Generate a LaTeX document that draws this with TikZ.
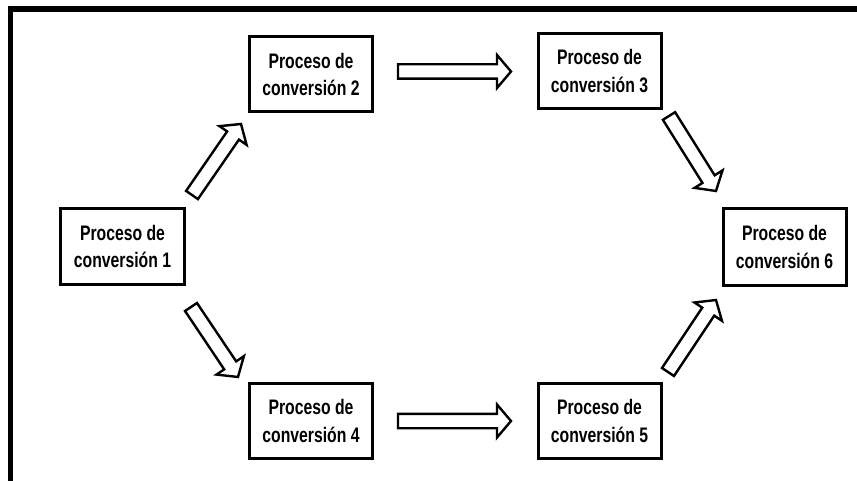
\documentclass[tikz,border=0pt]{standalone}
\usepackage{fontspec}
\setmainfont[FakeStretch=0.75]{Liberation Sans}
\usetikzlibrary{calc}

% process boxes and hollow block arrows
\tikzset{
  procbox/.style={draw, line width=3pt, fill=white, minimum width=123pt,
    minimum height=75pt, align=center, inner sep=0pt,
    font=\fontsize{21pt}{27.5pt}\selectfont\bfseries},
  hollowarrow/.style={draw, fill=white, line width=2.4pt, line join=miter},
  framelines/.style={line width=5.5pt, line join=miter},
}
\newcommand\shaftw{7.2}
\newcommand\headw{16.5}
\newcommand\headl{14}
% hollow block arrow from #1 (tail) to #2 (tip)
\newcommand\blockarrow[2]{%
  \draw[hollowarrow] let \p1=(#1), \p2=(#2),
    \n1={atan2(\y2-\y1,\x2-\x1)}, \n2={veclen(\x2-\x1,\y2-\y1)} in
    [shift={(\p1)}, rotate=\n1]
    (0,-\shaftw) -- (\n2-\headl,-\shaftw) -- (\n2-\headl,-\headw) -- (\n2,0)
    -- (\n2-\headl,\headw) -- (\n2-\headl,\shaftw) -- (0,\shaftw) -- cycle;}

\begin{document}
\begin{tikzpicture}[x=1pt, y=-1pt]
  \useasboundingbox (0,0) rectangle (857,481);

  % frame on the top and left edges
  \draw[framelines] (10.7,481) -- (10.7,9) -- (857,9);

  % boxes
  \node[procbox, minimum width=124pt, minimum height=76pt] (b1) at (122.5,246.5) {Proceso de\\conversión 1};
  \node[procbox] (b2) at (311,74.5) {Proceso de\\conversión 2};
  \node[procbox] (b3) at (599.5,71) {Proceso de\\conversión 3};
  \node[procbox] (b4) at (311,421) {Proceso de\\conversión 4};
  \node[procbox] (b5) at (599.5,421) {Proceso de\\conversión 5};
  \node[procbox, minimum height=77pt] (b6) at (784.5,247) {Proceso de\\conversión 6};

  % arrow ends
  \coordinate (t12) at (192,195);  \coordinate (h12) at (241,124);
  \coordinate (t14) at (191,307);  \coordinate (h14) at (238,377);
  \coordinate (t23) at (398,71.5); \coordinate (h23) at (511,71.5);
  \coordinate (t45) at (398,421);  \coordinate (h45) at (511,421);
  \coordinate (t36) at (669,116);  \coordinate (h36) at (716,191);
  \coordinate (t56) at (668,372);  \coordinate (h56) at (716,300);

  \blockarrow{t12}{h12}
  \blockarrow{t14}{h14}
  \blockarrow{t23}{h23}
  \blockarrow{t45}{h45}
  \blockarrow{t36}{h36}
  \blockarrow{t56}{h56}
\end{tikzpicture}
\end{document}
